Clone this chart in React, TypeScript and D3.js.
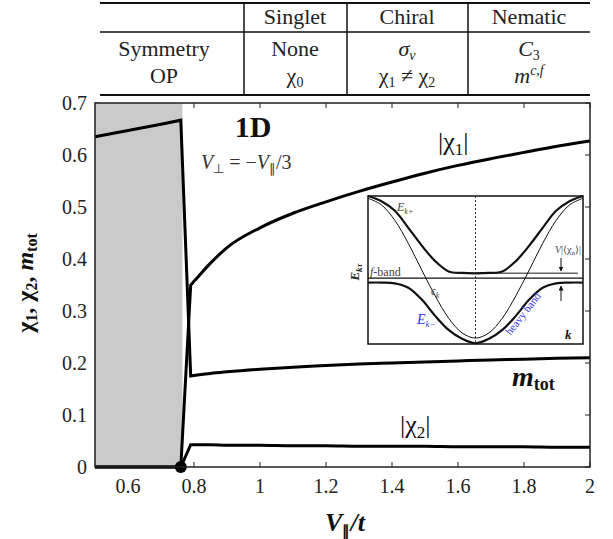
import React from "react";
import * as d3 from "d3";

// ---- main plot data ----
const vGrid = [0.5, 0.6, 0.7, 0.76, 0.79, 0.8, 0.85, 0.9, 1.0, 1.1, 1.2, 1.3, 1.4, 1.5, 1.6, 1.7, 1.8, 1.9, 2.0];
const mTot = [0.635, 0.647, 0.659, 0.667, 0.175, 0.176, 0.18, 0.183, 0.188, 0.192, 0.195, 0.198, 0.2, 0.202, 0.204, 0.206, 0.207, 0.209, 0.21];
const chi1 = [0, 0, 0, 0, 0.35, 0.357, 0.392, 0.422, 0.46, 0.488, 0.51, 0.53, 0.548, 0.565, 0.58, 0.593, 0.605, 0.617, 0.627];
const chi2 = [0, 0, 0, 0, 0.043, 0.043, 0.043, 0.042, 0.042, 0.041, 0.041, 0.04, 0.04, 0.04, 0.039, 0.039, 0.039, 0.038, 0.038];
const jumpIndex = 4; // first point of the chiral phase
const singletEnd = 0.765;
const transitionPoint = 0.76;
const xTicks = [0.6, 0.8, 1, 1.2, 1.4, 1.6, 1.8, 2];
const xTickLabels = ["0.6", "0.8", "1", "1.2", "1.4", "1.6", "1.8", "2"];
const yTicks = [0, 0.1, 0.2, 0.3, 0.4, 0.5, 0.6, 0.7];
const yTickLabels = ["0", "0.1", "0.2", "0.3", "0.4", "0.5", "0.6", "0.7"];

// ---- inset (schematic band structure), half k-range, mirrored ----
const insetK = [0, 0.125, 0.25, 0.375, 0.5, 0.625, 0.75, 0.875, 1];
const epsK = [-0.92, -0.85, -0.65, -0.35, 0.0, 0.36, 0.67, 0.88, 0.97];
const ePlus = [-0.045, -0.04, -0.02, 0.12, 0.33, 0.57, 0.8, 0.93, 1.0];
const eMinus = [-0.99, -0.93, -0.81, -0.62, -0.4, -0.24, -0.18, -0.17, -0.17];
const fBand = -0.11;

const FONT = "Liberation Serif";

function mirror(ks: number[], es: number[]): [number, number][] {
  const left: [number, number][] = ks.map((k, i) => [-k, es[i]] as [number, number]).reverse();
  const right: [number, number][] = ks.slice(1).map((k, i) => [k, es[i + 1]] as [number, number]);
  return left.concat(right);
}

export default function App() {
  const x = d3.scaleLinear().domain([0.5, 2]).range([95, 590]);
  const y = d3.scaleLinear().domain([0, 0.7]).range([467, 103]);
  const pts = (s: number[]) => s.map((v, i) => [vGrid[i], v] as [number, number]);
  const linLine = d3
    .line<[number, number]>()
    .x((d) => x(d[0]))
    .y((d) => y(d[1]));
  const smoothLine = d3
    .line<[number, number]>()
    .x((d) => x(d[0]))
    .y((d) => y(d[1]))
    .curve(d3.curveMonotoneX);
  const seriesPath = (s: number[]) => {
    const p = pts(s);
    const a = linLine(p.slice(0, jumpIndex + 1)) || "";
    const b = (smoothLine(p.slice(jumpIndex)) || "").replace(/^M/, "L");
    return a + b;
  };

  // inset scales
  const kx = d3.scaleLinear().domain([-1, 1]).range([368, 583]);
  const ey = d3.scaleLinear().domain([-1, 1]).range([344, 196]);
  const iline = d3
    .line<[number, number]>()
    .x((d) => kx(d[0]))
    .y((d) => ey(d[1]))
    .curve(d3.curveCatmullRom.alpha(0.5));

  const tableL = 100,
    tableR = 590;
  const colX = [244, 347, 468];

  return (
    <svg
      width={613}
      height={539}
      style={{ position: "absolute", left: 0, top: 0, background: "#fff", fontFamily: FONT }}
    >
      <defs>
        <marker id="arr" viewBox="0 0 10 10" refX="9" refY="5" markerWidth="5" markerHeight="5" orient="auto">
          <path d="M0,0 L10,5 L0,10 z" fill="#111" />
        </marker>
      </defs>
      <rect width={613} height={539} fill="#fff" />

      {/* ---- table ---- */}
      <g stroke="#111">
        <line x1={tableL} x2={tableR} y1={3} y2={3} strokeWidth={2} />
        <line x1={tableL} x2={tableR} y1={32} y2={32} strokeWidth={1.5} />
        <line x1={tableL} x2={tableR} y1={95} y2={95} strokeWidth={2} />
        {colX.map((c) => (
          <line key={c} x1={c} x2={c} y1={3} y2={95} strokeWidth={1.5} />
        ))}
      </g>
      <g fontSize={22} fill="#222" textAnchor="middle" style={{ fontFamily: FONT }}>
        <text x={295} y={24}>Singlet</text>
        <text x={407} y={24}>Chiral</text>
        <text x={529} y={24}>Nematic</text>
        <text x={164} y={56}>Symmetry</text>
        <text x={164} y={83}>OP</text>
        <text x={295} y={56}>None</text>
        <text x={295} y={83}>
          χ<tspan fontSize={14} dy={4}>0</tspan>
        </text>
        <text x={407} y={56}>
          <tspan fontStyle="italic">σ</tspan>
          <tspan fontSize={14} dy={4} fontStyle="italic">v</tspan>
        </text>
        <text x={407} y={83}>
          χ<tspan fontSize={14} dy={4}>1</tspan>
          <tspan dy={-4}> ≠ χ</tspan>
          <tspan fontSize={14} dy={4}>2</tspan>
        </text>
        <text x={529} y={56}>
          <tspan fontStyle="italic">C</tspan>
          <tspan fontSize={14} dy={4}>3</tspan>
        </text>
        <text x={529} y={83}>
          <tspan fontStyle="italic">m</tspan>
          <tspan fontSize={14} dy={-8} fontStyle="italic">c,f</tspan>
        </text>
      </g>

      {/* ---- ticks ---- */}
      <g stroke="#444" strokeWidth={1.2}>
        {xTicks.map((t) => (
          <g key={"xt" + t}>
            <line x1={x(t)} x2={x(t)} y1={467} y2={462} />
            <line x1={x(t)} x2={x(t)} y1={103} y2={108} />
          </g>
        ))}
        {yTicks.map((t) => (
          <g key={"yt" + t}>
            <line x1={95} x2={100} y1={y(t)} y2={y(t)} />
            <line x1={590} x2={585} y1={y(t)} y2={y(t)} />
          </g>
        ))}
      </g>

      {/* singlet shaded region */}
      <rect x={x(0.5)} y={y(0.7)} width={x(singletEnd) - x(0.5)} height={y(0) - y(0.7)} fill="#cacaca" />

      {/* tick labels */}
      <g fontSize={20} fill="#222" style={{ fontFamily: FONT }}>
        {xTicks.map((t, i) => (
          <text key={"xl" + t} x={x(t)} y={493} textAnchor="middle">
            {xTickLabels[i]}
          </text>
        ))}
        {yTicks.map((t, i) => (
          <text key={"yl" + t} x={87} y={y(t) + 7} textAnchor="end">
            {yTickLabels[i]}
          </text>
        ))}
      </g>

      {/* ---- inset ---- */}
      <rect x={368} y={196} width={215} height={148} fill="#fff" stroke="#111" strokeWidth={1.5} />
      <line x1={kx(0)} x2={kx(0)} y1={196} y2={344} stroke="#333" strokeWidth={1} strokeDasharray="2,2" />
      <line x1={368} x2={583} y1={ey(fBand)} y2={ey(fBand)} stroke="#111" strokeWidth={1.3} />
      <line x1={kx(0)} x2={578} y1={ey(ePlus[0])} y2={ey(ePlus[0])} stroke="#666" strokeWidth={1.5} />
      <path d={iline(mirror(insetK, epsK)) || ""} fill="none" stroke="#111" strokeWidth={1} />
      <path d={iline(mirror(insetK, ePlus)) || ""} fill="none" stroke="#111" strokeWidth={2.2} />
      <path d={iline(mirror(insetK, eMinus)) || ""} fill="none" stroke="#111" strokeWidth={2.2} />
      <line x1={561} x2={561} y1={258} y2={271} stroke="#111" strokeWidth={1} markerEnd="url(#arr)" />
      <line x1={561} x2={561} y1={301} y2={286} stroke="#111" strokeWidth={1} markerEnd="url(#arr)" />
      <g style={{ fontFamily: FONT }}>
        <text x={581} y={253} fontSize={10} fill="#444" textAnchor="end">
          <tspan fontStyle="italic">V</tspan>|⟨χ<tspan fontSize={7} dy={2}>n</tspan>
          <tspan dy={-2}>⟩|</tspan>
        </text>
        <text x={397} y={211} fontSize={12} fill="#444">
          <tspan fontStyle="italic">E</tspan>
          <tspan fontSize={8} dy={3} fontStyle="italic">k+</tspan>
        </text>
        <text x={370} y={276} fontSize={12} fill="#444">
          <tspan fontStyle="italic">f</tspan>-band
        </text>
        <text x={431} y={295} fontSize={12} fill="#444">
          <tspan fontStyle="italic">ϵ</tspan>
          <tspan fontSize={8} dy={3} fontStyle="italic">k</tspan>
        </text>
        <text x={417} y={324} fontSize={14} fill="#3333ee">
          <tspan fontStyle="italic">E</tspan>
          <tspan fontSize={9} dy={3} fontStyle="italic">k−</tspan>
        </text>
        <text x={0} y={0} fontSize={11} fill="#3333ee" textAnchor="middle" transform="translate(526,316) rotate(-52)">
          heavy band
        </text>
        <text x={565} y={339} fontSize={13} fontWeight="bold" fontStyle="italic" fill="#111">
          k
        </text>
        <text x={0} y={0} fontSize={13} fontWeight="bold" fontStyle="italic" fill="#222" textAnchor="middle" transform="translate(359,272) rotate(-90)">
          E<tspan fontSize={9} dy={3}>kτ</tspan>
        </text>
      </g>

      {/* ---- curves ---- */}
      <g fill="none" stroke="#000" strokeWidth={3} strokeLinejoin="miter">
        <path d={seriesPath(mTot)} />
        <path d={seriesPath(chi1)} />
        <path d={seriesPath(chi2)} />
      </g>
      <circle cx={x(transitionPoint)} cy={y(0)} r={6} fill="#000" />

      {/* frame */}
      <rect x={95} y={103} width={495} height={364} fill="none" stroke="#222" strokeWidth={1.5} />

      {/* annotations */}
      <g style={{ fontFamily: FONT }}>
        <text x={253} y={137} fontSize={30} fontWeight="bold" textAnchor="middle" fill="#111">
          1D
        </text>
        <text x={201} y={169} fontSize={20} fill="#333">
          <tspan fontStyle="italic">V</tspan>
          <tspan fontSize={13} dy={4}>⊥</tspan>
          <tspan dy={-4}> = −</tspan>
          <tspan fontStyle="italic">V</tspan>
          <tspan fontSize={13} dy={4}>∥</tspan>
          <tspan dy={-4}>/3</tspan>
        </text>
        <text x={438} y={150} fontSize={26} fill="#111">
          |χ<tspan fontSize={17} dy={5}>1</tspan>
          <tspan dy={-5}>|</tspan>
        </text>
        <text x={512} y={386} fontSize={28} fill="#111" fontWeight="bold">
          <tspan fontStyle="italic">m</tspan>
          <tspan fontSize={18} dy={4} fontWeight="bold">tot</tspan>
        </text>
        <text x={400} y={433} fontSize={26} fill="#111">
          |χ<tspan fontSize={17} dy={5}>2</tspan>
          <tspan dy={-5}>|</tspan>
        </text>

        {/* axis labels */}
        <text x={345} y={531} fontSize={26} fontWeight="bold" textAnchor="middle" fill="#111">
          <tspan fontStyle="italic">V</tspan>
          <tspan fontSize={15} dy={5}>∥</tspan>
          <tspan dy={-5} fontStyle="italic">/t</tspan>
        </text>
        <text x={0} y={0} fontSize={24} fontWeight="bold" textAnchor="middle" fill="#111" transform="translate(33,283) rotate(-90)">
          χ<tspan fontSize={16} dy={4}>1</tspan>
          <tspan dy={-4}>, χ</tspan>
          <tspan fontSize={16} dy={4}>2</tspan>
          <tspan dy={-4}>, </tspan>
          <tspan fontStyle="italic">m</tspan>
          <tspan fontSize={16} dy={4}>tot</tspan>
        </text>
      </g>
    </svg>
  );
}
